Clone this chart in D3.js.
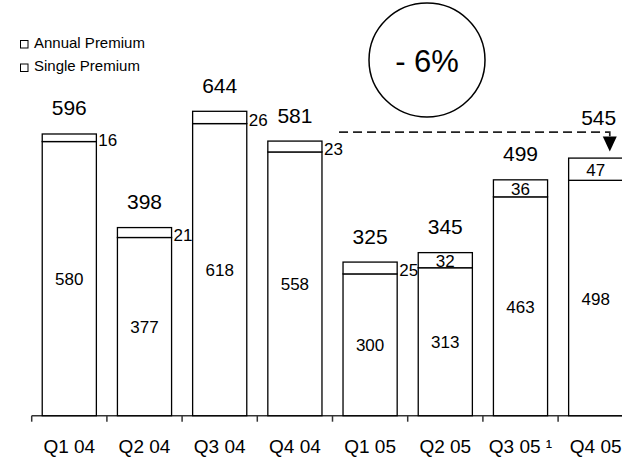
<!DOCTYPE html>
<html><head><meta charset="utf-8">
<script src="https://cdn.jsdelivr.net/npm/d3@7"></script>
<style>
html,body{margin:0;padding:0;background:#fff;}
svg{display:block;font-family:"Liberation Sans",Arial,sans-serif;}
</style></head>
<body>
<svg id="chart" width="622" height="458"></svg>
<script>
const categories = ["Q1 04","Q2 04","Q3 04","Q4 04","Q1 05","Q2 05","Q3 05 \u00B9","Q4 05"];
const singlePremium = [580, 377, 618, 558, 300, 313, 463, 498];
const annualPremium = [16, 21, 26, 23, 25, 32, 36, 47];
const totals = [596, 398, 644, 581, 325, 345, 499, 545];
const seriesNames = ["Annual Premium", "Single Premium"];
const changeLabel = "- 6%";
const arrowFrom = "Q4 04", arrowTo = "Q4 05", arrowLevel = 600;

const svg = d3.select("#chart");
const W = 622, H = 458;

const x = d3.scaleBand().domain(categories).range([31.7, 633.3]).paddingInner(0.28).paddingOuter(0.14);
const y = d3.scaleLinear().domain([0, 600]).range([415.7, 132.1]);
const bw = x.bandwidth();
const gapHalf = (x.step() - bw) / 2;

// axis
const axis = svg.append("g");
axis.append("line").attr("x1", x.range()[0]).attr("x2", x.range()[1])
  .attr("y1", y(0)).attr("y2", y(0)).attr("stroke", "#333").attr("stroke-width", 1.5);
axis.selectAll("line.tick").data(categories).enter().append("line")
  .attr("class", "tick")
  .attr("x1", d => x(d) - gapHalf).attr("x2", d => x(d) - gapHalf)
  .attr("y1", y(0)).attr("y2", y(0) + 6).attr("stroke", "#333").attr("stroke-width", 1.5);
axis.selectAll("text").data(categories).enter().append("text")
  .attr("x", d => x(d) + bw / 2).attr("y", 452.5)
  .attr("text-anchor", "middle").attr("font-size", 19).attr("fill", "#000")
  .text(d => d);

// bars
const g = svg.append("g");
categories.forEach((c, i) => {
  const s = singlePremium[i], a = annualPremium[i];
  g.append("rect").attr("x", x(c)).attr("width", bw)
    .attr("y", y(s)).attr("height", y(0) - y(s))
    .attr("fill", "#fff").attr("stroke", "#000").attr("stroke-width", 1.3);
  g.append("rect").attr("x", x(c)).attr("width", bw)
    .attr("y", y(s + a)).attr("height", y(s) - y(s + a))
    .attr("fill", "#fff").attr("stroke", "#000").attr("stroke-width", 1.3);
  // single label
  g.append("text").attr("x", x(c) + bw / 2).attr("y", (y(s) + y(0)) / 2 + 1)
    .attr("text-anchor", "middle").attr("dominant-baseline", "central")
    .attr("font-size", 17).text(s);
  // annual label
  const inside = a >= 30;
  g.append("text")
    .attr("x", inside ? x(c) + bw / 2 : x(c) + bw + 2)
    .attr("y", (y(s + a) + y(s)) / 2 + (inside ? 1 : 3))
    .attr("text-anchor", inside ? "middle" : "start").attr("dominant-baseline", "central")
    .attr("font-size", 17).text(a);
  // total label
  const isTarget = c === arrowTo;
  g.append("text")
    .attr("x", x(c) + bw / 2 + (isTarget ? 3 : 0))
    .attr("y", isTarget ? y(arrowLevel) - 7 : y(totals[i]) - 18.5)
    .attr("text-anchor", "middle").attr("font-size", 21).text(totals[i]);
});

// dashed arrow
const ax0 = x(categories[categories.indexOf(arrowFrom) + 1]) - 4;
const ax1 = x(arrowTo) + bw * 0.76;
const ti = categories.indexOf(arrowTo);
const tipY = y(totals[ti]) - 6.5;
svg.append("path")
  .attr("d", `M${ax0},${y(arrowLevel)} H${ax1} V${tipY - 14}`)
  .attr("fill", "none").attr("stroke", "#222").attr("stroke-width", 1.7)
  .attr("stroke-dasharray", "9,5");
svg.append("path")
  .attr("d", `M${ax1 - 7},${tipY - 15} L${ax1 + 7},${tipY - 15} L${ax1},${tipY} Z`)
  .attr("fill", "#000");

// circle annotation
svg.append("ellipse").attr("cx", 427).attr("cy", 60).attr("rx", 58).attr("ry", 57)
  .attr("fill", "#fff").attr("stroke", "#000").attr("stroke-width", 1.5);
svg.append("text").attr("x", 427).attr("y", 71.5).attr("text-anchor", "middle")
  .attr("font-size", 31).text(changeLabel);

// legend
const leg = svg.append("g");
seriesNames.forEach((n, i) => {
  leg.append("rect").attr("x", 20.5).attr("y", 40.5 + i * 23.5).attr("width", 7.5).attr("height", 7.5)
    .attr("fill", "#fff").attr("stroke", "#000").attr("stroke-width", 1);
  leg.append("text").attr("x", 34).attr("y", 47.5 + i * 23.5).attr("font-size", 15).text(n);
});
</script>
</body></html>
